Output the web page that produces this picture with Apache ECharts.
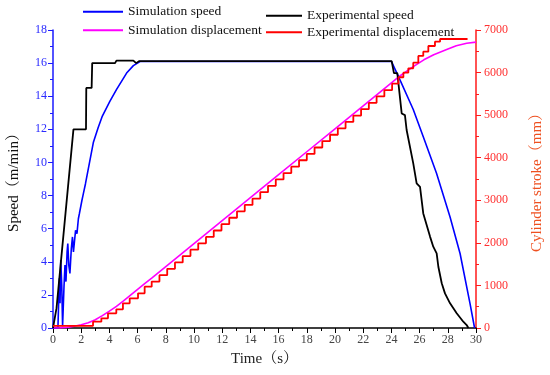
<!DOCTYPE html>
<html>
<head>
<meta charset="utf-8">
<script src="https://cdn.jsdelivr.net/npm/echarts@6/dist/echarts.min.js"></script>
<style>
html,body{margin:0;padding:0;background:#fff;}
#chart{width:550px;height:375px;}
</style>
</head>
<body>
<div id="chart"></div>
<script>
// time ticks
var xTicks = [0,2,4,6,8,10,12,14,16,18,20,22,24,26,28,30];
var speedTicks = [0,2,4,6,8,10,12,14,16,18];
var strokeTicks = [0,1000,2000,3000,4000,5000,6000,7000];

// Simulation speed (m/min) : [time s, speed]
var simSpeed = [[0,0],[0.35,0],[0.45,3.0],[0.5,1.5],[0.55,4.1],[0.62,2.6],[0.68,0.1],[0.72,0],[0.78,2.5],[0.85,3.8],[0.92,2.8],[1.0,4.6],[1.05,5.1],[1.12,3.8],[1.2,3.3],[1.3,4.8],[1.38,5.5],[1.45,4.6],[1.5,4.5],[1.6,5.9],[1.7,5.7],[1.8,6.6],[1.87,6.9],[1.95,6.8],[2.05,7.7],[2.15,8.1],[2.3,8.7],[2.5,9.6],[2.86,11.2],[3.2,12.1],[3.5,12.8],[4.04,13.7],[4.5,14.4],[5.22,15.4],[5.7,15.85],[6.17,16.1],[24.0,16.1],[24.6,15.0],[25.55,13.2],[26.26,11.55],[27.2,9.35],[28.16,6.7],[28.87,4.5],[29.57,1.5],[29.9,0]];

// Experimental speed (m/min)
var expSpeed = [[0,0],[0.25,1.2],[1.45,12],[2.34,12],[2.36,14.5],[2.74,14.5],[2.78,16.0],[4.4,16.0],[4.5,16.15],[5.7,16.15],[5.9,16.0],[6.1,16.12],[24.02,16.12],[24.18,15.4],[24.42,15.4],[24.73,12.96],[24.96,12.86],[25.08,11.96],[25.55,9.94],[25.67,9.34],[25.79,8.74],[26.03,8.53],[26.26,6.92],[26.74,5.52],[26.97,4.91],[27.21,4.51],[27.33,3.7],[27.57,2.7],[27.8,2.09],[28.16,1.49],[28.63,0.89],[29.1,0.38],[29.34,0.18],[29.46,0]];

// Simulation displacement (mm)
var simDisp = [[0,0],[0.5,3],[1,15],[1.5,40],[2,75],[2.5,125],[3,195],[3.5,290],[4,395],[4.5,510],[5,635],[5.5,770],[6,905],[6.5,1040],[7,1170],[8,1440],[10,1980],[12,2520],[14,3060],[16,3600],[18,4140],[20,4680],[22,5220],[24,5760],[24.6,5920],[25.55,6140],[26.3,6300],[27,6420],[27.92,6540],[28.6,6630],[29.34,6690],[30,6715]];

// Experimental displacement (mm) : [step time, new level]
var expDisp = [[0,50],[2.36,50],[2.84,148],[3.43,227],[3.9,345],[4.49,438],[4.96,579],[5.44,697],[6.03,814],[6.5,971],[7.0,1090],[7.55,1240],[8.1,1390],[8.65,1540],[9.2,1690],[9.75,1840],[10.3,1990],[10.85,2140],[11.4,2290],[11.95,2440],[12.5,2590],[13.05,2740],[13.6,2890],[14.15,3040],[14.7,3190],[15.25,3340],[15.8,3490],[16.35,3640],[16.9,3790],[17.45,3940],[18.0,4090],[18.55,4240],[19.1,4390],[19.65,4540],[20.2,4690],[20.75,4840],[21.3,4990],[21.85,5140],[22.4,5290],[22.95,5440],[23.5,5590],[24.05,5740],[24.5,5890],[24.85,5998],[25.2,6100],[25.55,6233],[25.91,6390],[26.26,6490],[26.62,6624],[27.09,6725],[27.45,6789],[29.4,6789]];

var serif = '"Liberation Serif","Times New Roman","Noto Serif CJK SC","Noto Sans CJK SC",serif';

var chart = echarts.init(document.getElementById('chart'), null, {renderer:'canvas'});
chart.setOption({
  animation:false,
  backgroundColor:'#fff',
  grid:{left:53,right:74,top:30,bottom:47,containLabel:false,outerBoundsMode:'none'},
  legend:[{
    left:78, top:0, orient:'vertical', icon:'rect', itemWidth:40, itemHeight:2, itemGap:5,
    textStyle:{fontFamily:serif,fontSize:13.5,color:'#111'},
    data:['Simulation speed','Simulation displacement']
  },{
    left:261, top:4, orient:'vertical', icon:'rect', itemWidth:36, itemHeight:2, itemGap:3,
    textStyle:{fontFamily:serif,fontSize:13.5,color:'#111'},
    data:['Experimental speed','Experimental displacement']
  }],
  xAxis:{
    type:'value',min:xTicks[0],max:xTicks[xTicks.length-1],interval:2,
    name:'Time（s）',nameLocation:'middle',nameGap:24,
    nameTextStyle:{fontFamily:serif,fontSize:15,color:'#222'},
    axisLine:{show:true,onZero:false,lineStyle:{color:'#000',width:1.5}},
    axisTick:{show:true,length:5,lineStyle:{color:'#000'}},
    minorTick:{show:true,splitNumber:2,length:3,lineStyle:{color:'#000'}},
    axisLabel:{fontFamily:serif,fontSize:12,color:'#444',margin:6},
    splitLine:{show:false}
  },
  yAxis:[{
    type:'value',min:speedTicks[0],max:speedTicks[speedTicks.length-1],interval:2,position:'left',
    name:'Speed（m/min）',nameLocation:'middle',nameGap:31,
    nameTextStyle:{fontFamily:serif,fontSize:15,color:'#111'},
    axisLine:{show:true,lineStyle:{color:'#1a1aff',width:1.5}},
    axisTick:{show:true,length:5,lineStyle:{color:'#1a1aff'}},
    minorTick:{show:true,splitNumber:2,length:3,lineStyle:{color:'#1a1aff'}},
    axisLabel:{fontFamily:serif,fontSize:12,color:'#2a2aff',margin:6},
    splitLine:{show:false}
  },{
    type:'value',min:strokeTicks[0],max:strokeTicks[strokeTicks.length-1],interval:1000,position:'right',
    name:'Cylinder stroke（mm）',nameLocation:'middle',nameGap:54,
    nameTextStyle:{fontFamily:serif,fontSize:15,color:'#ee5020'},
    axisLine:{show:true,lineStyle:{color:'#ff1a1a',width:1.5}},
    axisTick:{show:true,length:5,lineStyle:{color:'#ff1a1a'}},
    minorTick:{show:true,splitNumber:2,length:3,lineStyle:{color:'#ff1a1a'}},
    axisLabel:{fontFamily:serif,fontSize:12,color:'#ff3030',margin:8,formatter:function(v){return String(v);}},
    splitLine:{show:false}
  }],
  series:[
    {name:'Simulation speed',type:'line',yAxisIndex:0,data:simSpeed,showSymbol:false,symbol:'none',
     lineStyle:{color:'#0000ff',width:1.6},itemStyle:{color:'#0000ff'},z:2},
    {name:'Simulation displacement',type:'line',yAxisIndex:1,data:simDisp,showSymbol:false,symbol:'none',smooth:false,
     lineStyle:{color:'#ff00ff',width:1.6},itemStyle:{color:'#ff00ff'},z:3},
    {name:'Experimental speed',type:'line',yAxisIndex:0,data:expSpeed,showSymbol:false,symbol:'none',
     lineStyle:{color:'#000000',width:1.8},itemStyle:{color:'#000000'},z:4},
    {name:'Experimental displacement',type:'line',yAxisIndex:1,data:expDisp,step:'end',showSymbol:false,symbol:'none',
     lineStyle:{color:'#ff0000',width:1.8},itemStyle:{color:'#ff0000'},z:5}
  ]
});
</script>
</body>
</html>
